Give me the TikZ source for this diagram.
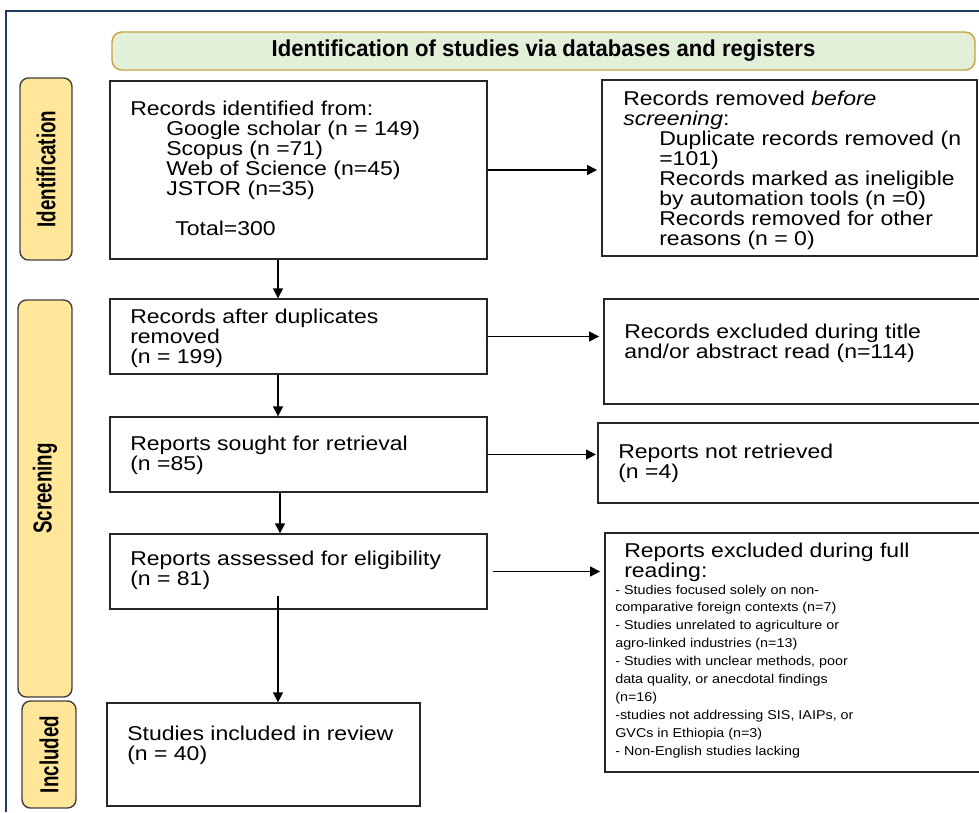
\documentclass[tikz,border=0pt]{standalone}
\usepackage{fontspec}
\setmainfont{Liberation Sans}[FakeStretch=1.15]
\newfontfamily\smallfnt{Liberation Sans}[FakeStretch=1.12]
\newfontfamily\stagefnt{Liberation Sans}[FakeStretch=0.72]
\newfontfamily\headfnt{Liberation Sans}[FakeStretch=0.96]
\usepackage{xcolor}
\usetikzlibrary{arrows.meta,calc}
\definecolor{titlefill}{HTML}{E2EFD9}
\definecolor{titleedge}{HTML}{C9A13A}
\definecolor{stagefill}{HTML}{FFE699}
\definecolor{frameblue}{HTML}{1F3864}
\def\pix{0.025cm}
\newcommand{\subind}{\hspace*{0.9cm}}

\begin{document}
\begin{tikzpicture}[x=0.025cm, y=-0.025cm,
  box/.style={draw=black!85, line width=1pt, inner sep=0pt},
  stage/.style={draw=black!75, fill=stagefill, rounded corners=6pt, line width=1pt, rotate=90, inner sep=0pt,
    font=\stagefnt\fontsize{18.5}{18.5}\selectfont\bfseries},
  txt/.style={anchor=north west, inner sep=0pt, align=left, font=\fontsize{14.23}{14.23}\selectfont},
  small/.style={anchor=north west, inner sep=0pt, align=left, font=\smallfnt\fontsize{9.1}{12.73}\selectfont},
  arr/.style={line width=1pt, -{Triangle[length=7pt,width=7pt]}}]
  \useasboundingbox (0,0) rectangle (979,812);
  \draw[frameblue, line width=2pt] (6,812) -- (6,11) -- (979,11);

  \node[draw=titleedge, fill=titlefill, rounded corners=7pt, line width=1pt, minimum width=863*\pix, minimum height=38*\pix,
    font=\headfnt\fontsize{16.36}{16.36}\selectfont\bfseries] (title) at (543.5,51) {Identification of studies via databases and registers};

  \node[stage, minimum width=182*\pix, minimum height=52*\pix] (ident) at (46,169) {Identification};
  \node[stage, minimum width=397*\pix, minimum height=54*\pix] (screen) at (45,498.5) {\hspace*{0.5cm}Screening};
  \node[stage, minimum width=107*\pix, minimum height=54*\pix] (incl) at (49,754.5) {Included};

  \node[box, minimum width=377*\pix, minimum height=178*\pix] (idbox) at (298.5,170) {};
  \node[box, minimum width=375*\pix, minimum height=176*\pix] (rmbox) at (789.5,168) {};
  \node[box, minimum width=377*\pix, minimum height=75*\pix] (dupbox) at (298.5,336.5) {};
  \node[box, minimum width=386*\pix, minimum height=105*\pix] (exclbox) at (797,351.5) {};
  \node[box, minimum width=377*\pix, minimum height=75*\pix] (sought) at (298.5,454.5) {};
  \node[box, minimum width=392*\pix, minimum height=80*\pix] (notret) at (794,463) {};
  \node[box, minimum width=377*\pix, minimum height=75*\pix] (assess) at (298.5,571.5) {};
  \node[box, minimum width=385*\pix, minimum height=239*\pix] (fullex) at (797.5,652.5) {};
  \node[box, minimum width=313*\pix, minimum height=103*\pix] (studies) at (263.5,754.5) {};

  \node[txt] (idtxt) at (130,100.4) {Records identified from:\\
    \subind Google scholar (n = 149)\\
    \subind Scopus (n =71)\\
    \subind Web of Science (n=45)\\
    \subind JSTOR (n=35)\\[14.23pt]
    \hspace*{1.125cm}Total=300};
  \node[txt] (rmtxt) at (623,90.4) {Records removed \textit{before}\\
    \textit{screening}:\\
    \subind Duplicate records removed (n\\
    \subind =101)\\
    \subind Records marked as ineligible\\
    \subind by automation tools (n =0)\\
    \subind Records removed for other\\
    \subind reasons (n = 0)};
  \node[txt] (duptxt) at (130,308.4) {Records after duplicates\\ removed\\ (n = 199)};
  \node[txt] (excltxt) at (624,323.4) {Records excluded during title\\ and/or abstract read (n=114)};
  \node[txt] (soughttxt) at (130,435.4) {Reports sought for retrieval\\ (n =85)};
  \node[txt] (notrettxt) at (618,443.4) {Reports not retrieved\\ (n =4)};
  \node[txt] (assesstxt) at (130,550.4) {Reports assessed for eligibility\\ (n = 81)};
  \node[txt] (fullhead) at (624,542.4) {Reports excluded during full\\ reading:};
  \node[small] (fulllist) at (615,584.5) {- Studies focused solely on non-\\
    comparative foreign contexts (n=7)\\
    - Studies unrelated to agriculture or\\
    agro-linked industries (n=13)\\
    - Studies with unclear methods, poor\\
    data quality, or anecdotal findings\\
    (n=16)\\
    -studies not addressing SIS, IAIPs, or\\
    GVCs in Ethiopia (n=3)\\
    - Non-English studies lacking};
  \node[txt] (studiestxt) at (127,725.4) {Studies included in review\\ (n = 40)};

  \coordinate (spine) at (278,0);
  \coordinate (spinetwo) at (280,0);
  \draw[arr] (idbox.south -| spine) -- (dupbox.north -| spine);
  \draw[arr] (dupbox.south -| spine) -- (sought.north -| spine);
  \draw[arr] (sought.south -| spinetwo) -- (assess.north -| spinetwo);
  \draw[arr] ($(assess.south -| spine)+(0,-14)$) -- (studies.north -| spine);
  \draw[arr, shorten >=3pt] (idbox.east) -- (rmbox.west |- idbox.east);
  \draw[arr, shorten >=3pt] (dupbox.east) -- (exclbox.west |- dupbox.east);
  \draw[arr, shorten >=1pt] (sought.east) -- (notret.west |- sought.east);
  \draw[arr, shorten <=3.5pt, shorten >=3pt] (assess.east) -- (fullex.west |- assess.east);
\end{tikzpicture}
\end{document}
